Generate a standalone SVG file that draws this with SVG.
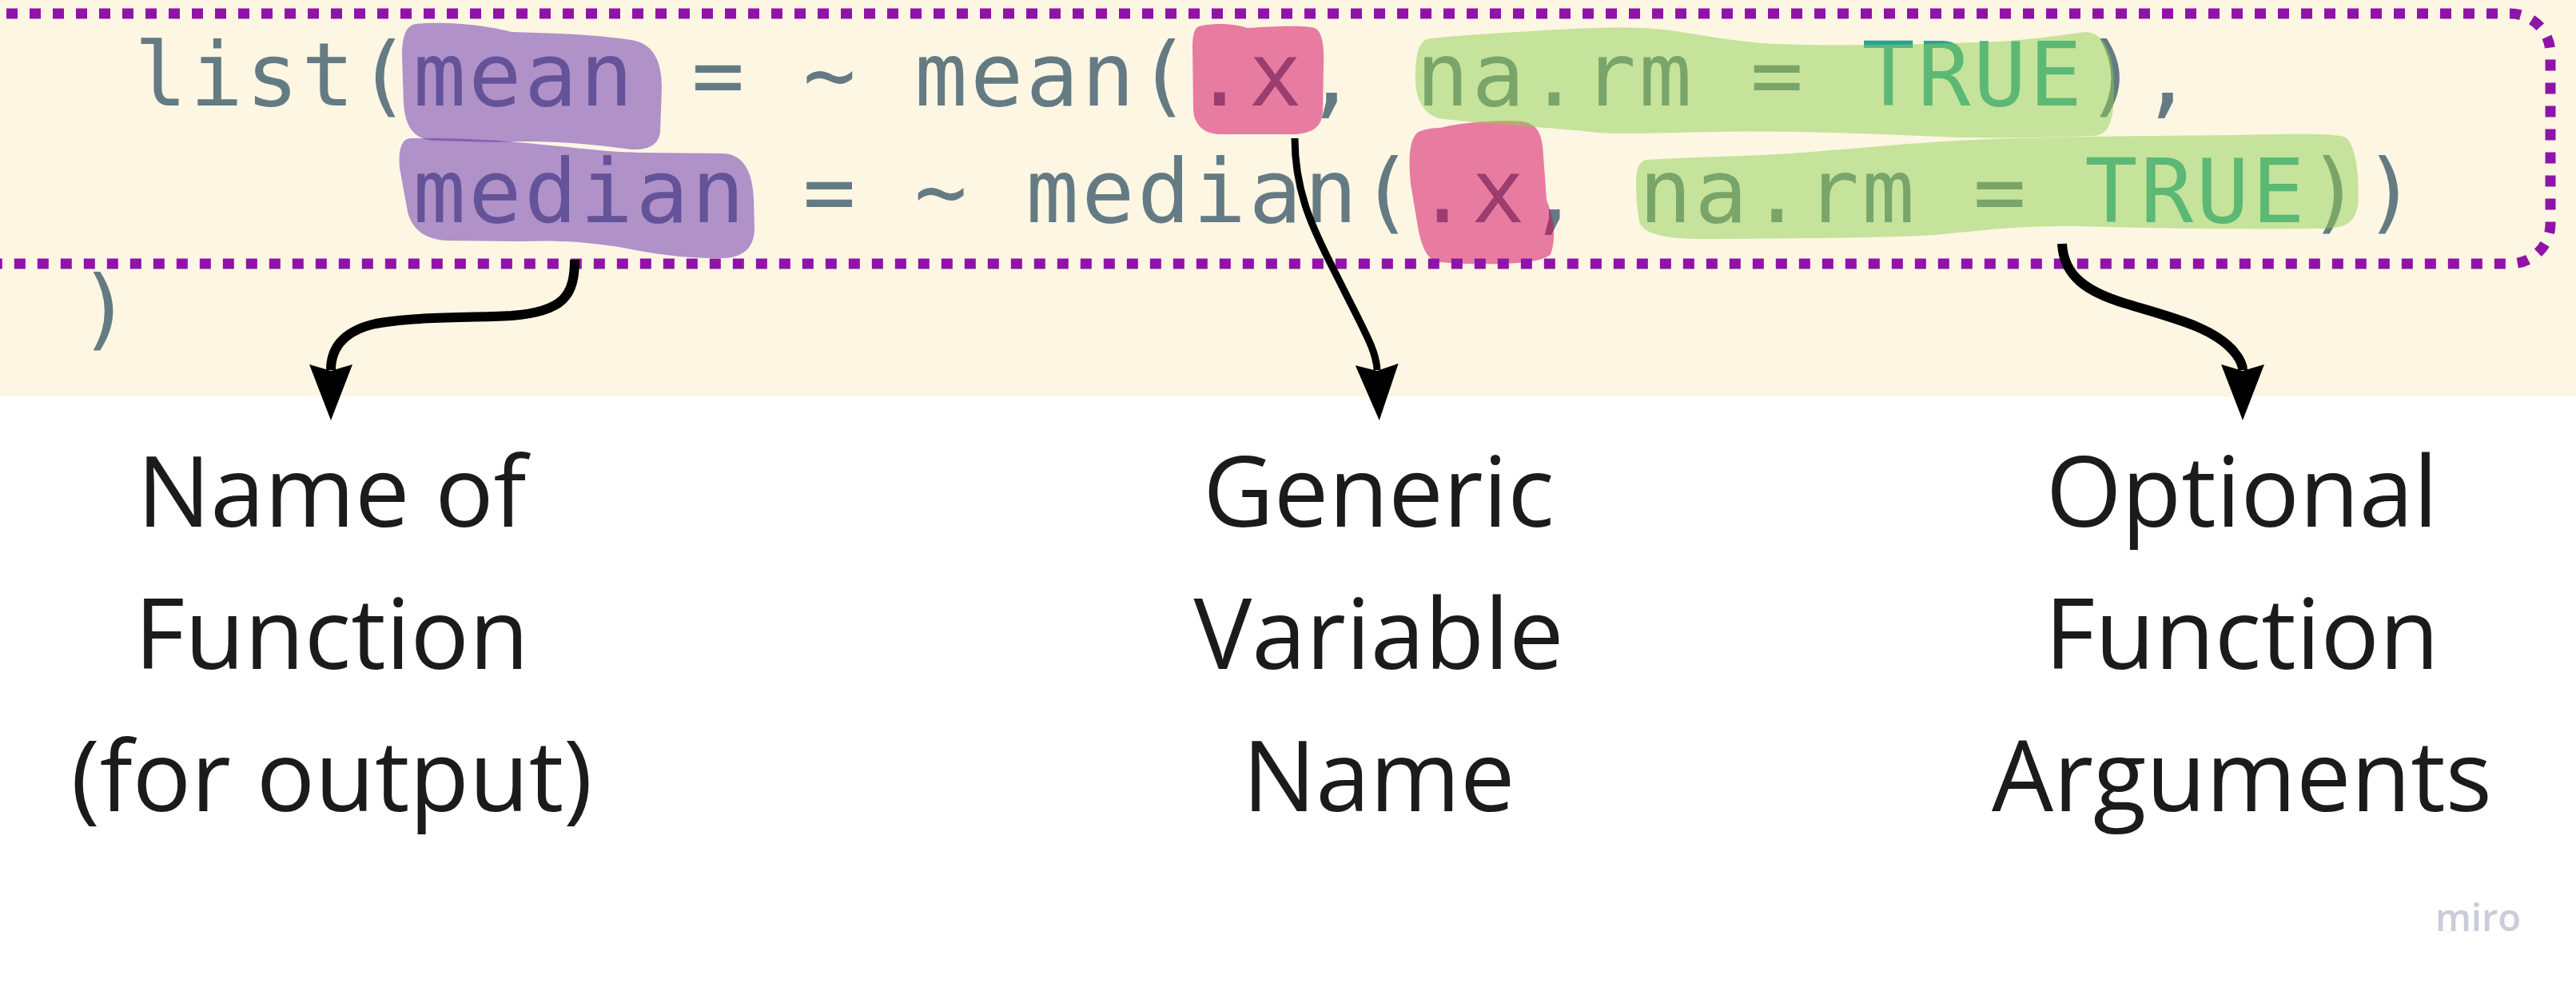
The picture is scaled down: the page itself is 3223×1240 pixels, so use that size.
<svg xmlns="http://www.w3.org/2000/svg" width="3223" height="1240" viewBox="0 0 3223 1240">
<defs>
<style>
.code{font-family:"DejaVu Sans Mono","Liberation Mono",monospace;font-size:110px;letter-spacing:3.5px;fill:#657b83}
.kw{fill:#2aa198}
.lbl{font-family:"Open Sans","Noto Sans","Liberation Sans",sans-serif;font-size:122px;fill:#1b1b1b;text-anchor:middle}
.hp{fill:#632cad;fill-opacity:0.5}
.hk{fill:#d3005d;fill-opacity:0.5}
.hg{fill:#8dd051;fill-opacity:0.5}
.conn{fill:none;stroke:#000;stroke-linecap:butt}
</style>
<marker id="ah" viewBox="0 0 70 54" markerUnits="userSpaceOnUse" markerWidth="70" markerHeight="54" refX="7" refY="27" orient="auto">
<path d="M0,0 L70,27 L0,54 L8,27 Z" fill="#000"/>
</marker>
</defs>
<rect x="0" y="0" width="3223" height="1240" fill="#ffffff"/>
<rect x="0" y="0" width="3223" height="496" fill="#fdf6e3"/>

<g id="code">
<text class="code" x="168" y="132">list(mean = ~ mean(.x, na.rm = <tspan class="kw">TRUE</tspan>),</text>
<text class="code" x="516.5" y="278">median = ~ median(.x, na.rm = <tspan class="kw">TRUE</tspan>))</text>
<text class="code" x="98" y="424">)</text>
</g>

<g id="highlights">
<path id="hl-mean" class="hp" d="M520,30 C560,26 610,32 640,40 L700,42 C740,44 760,46 790,50 C820,55 828,80 828,110 L826,165 C824,182 810,188 790,187 C740,180 680,175 620,178 L545,176 C515,175 507,155 505,130 L503,70 C503,45 508,32 520,30 Z"/>
<path id="hl-median" class="hp" d="M515,173 C600,172 650,178 700,183 C730,186 760,190 800,191 L905,192 C930,193 942,215 943,250 L944,285 C944,305 935,322 905,323 C860,324 820,318 780,310 C740,303 700,300 650,302 L560,301 C530,300 515,285 510,265 L500,210 C498,185 503,173 515,173 Z"/>
<path id="hl-x1" class="hk" d="M1500,33 C1520,28 1545,30 1560,35 C1590,33 1630,31 1645,35 C1655,40 1657,60 1656,80 L1655,140 C1654,160 1640,167 1620,168 L1525,168 C1505,167 1493,155 1493,135 L1492,60 C1492,45 1494,35 1500,33 Z"/>
<path id="hl-x2" class="hk" d="M1775,165 C1790,158 1800,162 1810,158 C1840,152 1880,150 1905,152 C1925,155 1930,170 1931,195 L1935,250 C1945,275 1947,300 1940,318 C1930,330 1880,331 1830,330 L1800,328 C1785,325 1780,310 1775,290 L1765,230 C1762,200 1763,172 1775,165 Z"/>
<path id="hl-arg1" class="hg" d="M1790,48 C1850,42 1900,40 1950,37 C2000,34 2050,33 2090,38 C2130,44 2170,52 2220,55 C2300,58 2400,56 2500,52 C2560,48 2590,42 2610,40 C2635,42 2645,70 2645,110 C2645,150 2640,168 2620,170 C2560,172 2500,173 2450,172 C2350,168 2250,163 2150,165 C2080,166 2030,168 2000,166 C1950,160 1850,155 1800,148 C1775,140 1770,115 1771,90 C1772,65 1775,50 1790,48 Z"/>
<path id="hl-arg2" class="hg" d="M2060,200 C2120,196 2180,196 2240,192 C2320,186 2400,178 2470,175 C2560,171 2700,170 2800,169 C2860,168 2920,166 2935,172 C2950,185 2952,230 2950,258 C2945,280 2935,286 2900,286 C2800,287 2700,286 2600,283 C2520,282 2470,290 2420,294 C2350,298 2250,298 2150,299 C2090,300 2060,295 2052,280 C2047,260 2046,230 2048,215 C2050,205 2055,201 2060,200 Z"/>
</g>

<g id="frame">
<rect x="-100" y="17" width="3291" height="313" rx="50" ry="50" fill="none" stroke="#9013a9" stroke-width="13" stroke-dasharray="14 15"/>
</g>

<g id="connectors">
<path id="c-name" class="conn" stroke-width="12" marker-end="url(#ah)" d="M719,325 C719,370 705,390 640,395 C580,398 520,396 470,405 C425,415 414,440 414,463"/>
<path id="c-var" class="conn" stroke-width="9" marker-end="url(#ah)" d="M1620,173 C1620,250 1650,300 1680,360 C1710,420 1722,440 1723,463"/>
<path id="c-arg" class="conn" stroke-width="12" marker-end="url(#ah)" d="M2580,305 C2582,345 2610,365 2660,380 C2720,398 2770,410 2795,440 C2805,452 2806,458 2806,463"/>
</g>

<g id="node-name">
<text class="lbl" x="415" y="659">Name of</text>
<text class="lbl" x="415" y="837">Function</text>
<text class="lbl" x="415" y="1015">(for output)</text>
</g>
<g id="node-var">
<text class="lbl" x="1725" y="659">Generic</text>
<text class="lbl" x="1725" y="837">Variable</text>
<text class="lbl" x="1725" y="1015">Name</text>
</g>
<g id="node-arg">
<text class="lbl" x="2805" y="659">Optional</text>
<text class="lbl" x="2805" y="837">Function</text>
<text class="lbl" x="2805" y="1015">Arguments</text>
</g>

<g id="watermark">
<text x="3047" y="1165" font-family="'Open Sans','Noto Sans',sans-serif" font-size="47" font-weight="600" fill="#cbcbd9">miro</text>
</g>
</svg>
